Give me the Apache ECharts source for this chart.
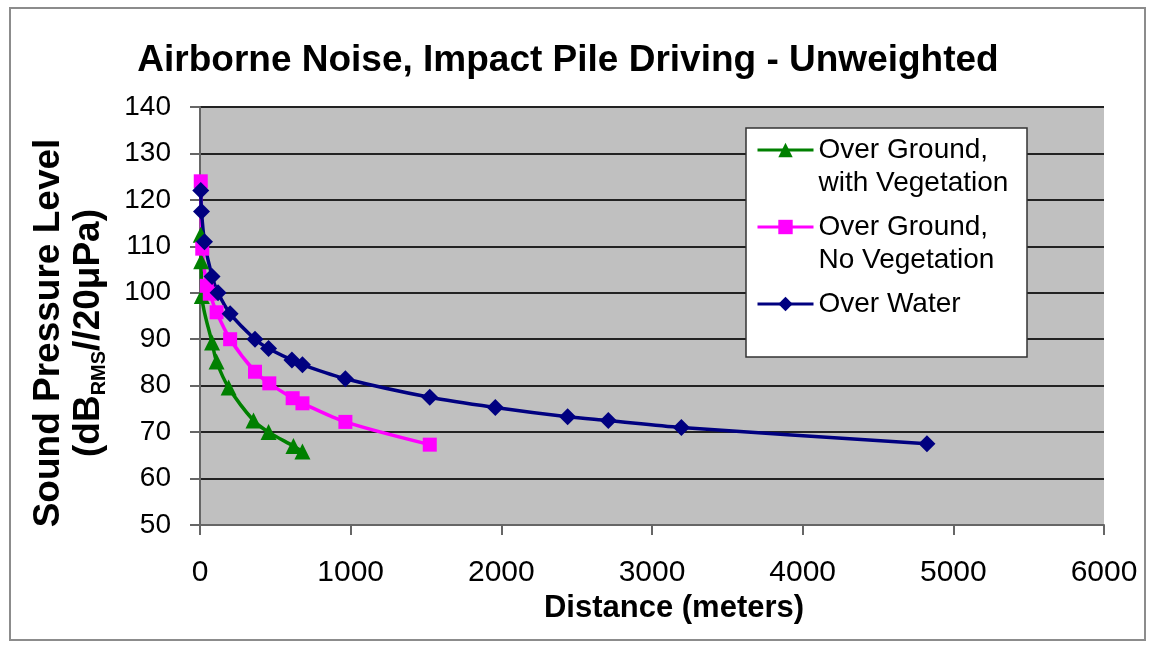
<!DOCTYPE html>
<html>
<head>
<meta charset="utf-8">
<script src="https://cdn.jsdelivr.net/npm/echarts@6/dist/echarts.min.js"></script>
<style>html,body{margin:0;padding:0;background:#fff;}#c{width:1154px;height:649px;}</style>
</head>
<body>
<div id="c"></div>
<script>
const vegDist = [5, 8, 12, 80, 110, 190, 355, 455, 620, 680];
const vegLevel = [112.5, 106.8, 99.3, 89.3, 85.2, 79.6, 72.5, 70, 67, 65.8];
const noVegDist = [5, 15, 45, 65, 110, 200, 365, 460, 615, 680, 965, 1525];
const noVegLevel = [124, 109.5, 101.5, 99.8, 95.8, 90, 83, 80.5, 77.3, 76.2, 72.2, 67.3];
const waterDist = [5, 10, 30, 80, 120, 200, 365, 455, 610, 680, 965, 1525, 1960, 2440, 2710, 3195, 4825];
const waterLevel = [122, 117.5, 111, 103.5, 100, 95.5, 90, 88, 85.5, 84.5, 81.5, 77.5, 75.3, 73.3, 72.5, 71, 67.5];
const seriesNames = ['Over Ground,\nwith Vegetation', 'Over Ground,\nNo Vegetation', 'Over Water'];

const zip = (a, b) => a.map((v, i) => [v, b[i]]);
const chart = echarts.init(document.getElementById('c'));
const font = 'Arial, "Liberation Sans", sans-serif';
chart.setOption({
  backgroundColor: '#fff',
  animation: false,
  graphic: [
    {type: 'rect', shape: {x: 10, y: 8, width: 1135, height: 632},
     style: {fill: 'none', stroke: '#8c8c8c', lineWidth: 2}, z: -1},
    {type: 'rect', shape: {x: 746, y: 128, width: 281, height: 229},
     style: {fill: '#fff', stroke: '#333', lineWidth: 1.5}, z: 3}
  ],
  title: {
    text: 'Airborne Noise, Impact Pile Driving - Unweighted',
    left: 563, top: 37, textAlign: 'center',
    textStyle: {fontFamily: font, fontSize: 37, fontWeight: 'bold', color: '#000'}
  },
  grid: {left: 200, right: 50, top: 107, bottom: 124, backgroundColor: '#c0c0c0', show: true, borderWidth: 0},
  legend: {
    orient: 'vertical', left: 756, top: 100.5, padding: 0, z: 5,
    itemGap: -22, itemWidth: 56, itemHeight: 18,
    lineStyle: {width: 3},
    textStyle: {fontFamily: font, fontSize: 28, color: '#000', lineHeight: 33},
    formatter: name => name === 'Over Water' ? '\n' + name + '\n ' : '\n' + name,
    data: seriesNames
  },
  xAxis: {
    type: 'value', min: 0, max: 6000, interval: 1000,
    name: 'Distance (meters)', nameLocation: 'middle', nameGap: 60,
    nameTextStyle: {fontFamily: font, fontSize: 31, fontWeight: 'bold', color: '#000', padding: [0, 0, 0, 44]},
    axisLine: {show: true, lineStyle: {color: '#666', width: 2}},
    axisTick: {show: true, length: 10, lineStyle: {color: '#666', width: 2}},
    axisLabel: {fontFamily: font, fontSize: 30, color: '#000', margin: 33, formatter: v => String(v)},
    splitLine: {show: false}
  },
  yAxis: {
    type: 'value', min: 50, max: 140, interval: 10,
    name: '{a|Sound Pressure Level}\n{b|(dB}{s|RMS}{b|//20μPa)}',
    nameLocation: 'middle', nameGap: 91, nameRotate: 90,
    nameTextStyle: {
      fontFamily: font, color: '#000', align: 'center', padding: [0, 34, 0, 0],
      rich: {
        a: {fontFamily: font, fontSize: 37, fontWeight: 'bold', color: '#000', lineHeight: 40},
        b: {fontFamily: font, fontSize: 37, fontWeight: 'bold', color: '#000', lineHeight: 40},
        s: {fontFamily: font, fontSize: 20, fontWeight: 'bold', color: '#000', verticalAlign: 'bottom', lineHeight: 40, padding: [14, 0, 0, 0]}
      }
    },
    axisLine: {show: true, lineStyle: {color: '#666', width: 2}},
    axisTick: {show: true, length: 10, lineStyle: {color: '#666', width: 2}},
    axisLabel: {fontFamily: font, fontSize: 28, color: '#000', margin: 29},
    splitLine: {show: true, lineStyle: {color: '#222', width: 2}}
  },
  series: [
    {
      name: seriesNames[0], type: 'line', data: zip(vegDist, vegLevel),
      smooth: 0.3, symbol: 'triangle', symbolSize: 16,
      itemStyle: {color: '#008000'}, lineStyle: {color: '#008000', width: 3.5}
    },
    {
      name: seriesNames[1], type: 'line', data: zip(noVegDist, noVegLevel),
      smooth: 0.3, symbol: 'rect', symbolSize: 14,
      itemStyle: {color: '#ff00ff'}, lineStyle: {color: '#ff00ff', width: 3.5}
    },
    {
      name: seriesNames[2], type: 'line', data: zip(waterDist, waterLevel),
      smooth: 0.3, symbol: 'diamond', symbolSize: 17,
      itemStyle: {color: '#000080'}, lineStyle: {color: '#000080', width: 3.5}
    }
  ]
});
</script>
</body>
</html>
